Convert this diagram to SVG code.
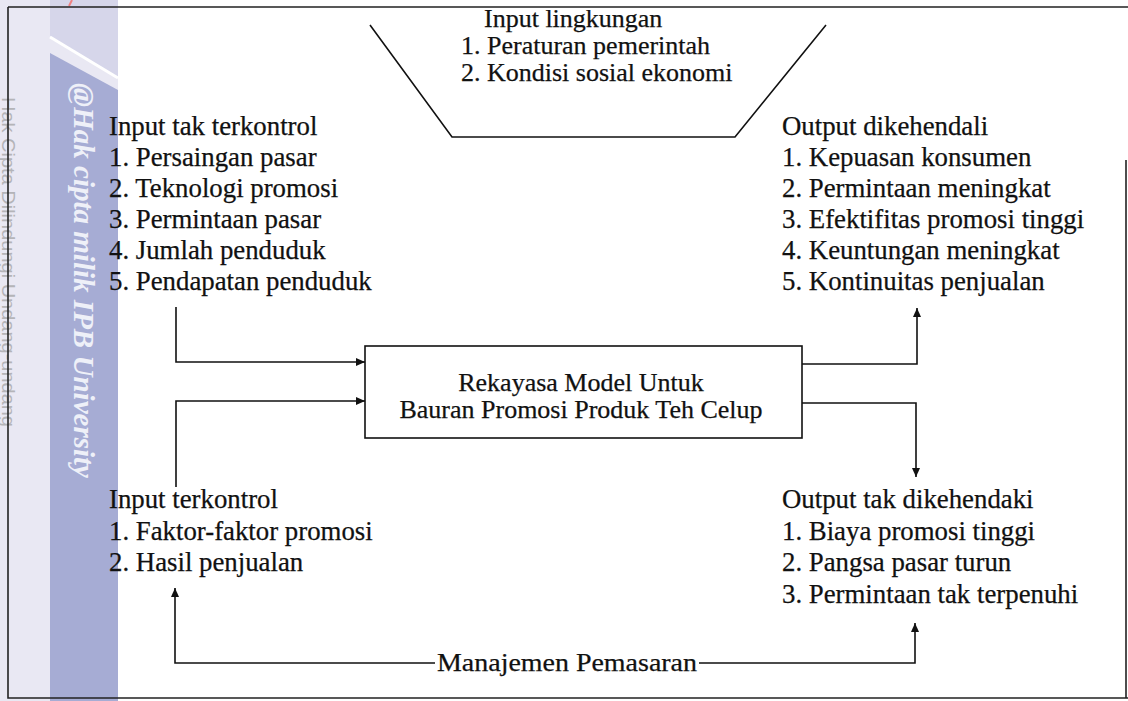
<svg xmlns="http://www.w3.org/2000/svg" width="1128" height="701" viewBox="0 0 1128 701">
<style>
.t{font-family:"Liberation Serif","Times New Roman",serif;font-size:26px;fill:#111;stroke:#111;stroke-width:0.25}
.l{font-size:26.8px}
.ln{fill:none;stroke:#111;stroke-width:1.6}
.bd{fill:none;stroke:#222;stroke-width:1.6}
</style>
<defs>
<marker id="ah" markerUnits="userSpaceOnUse" markerWidth="9" markerHeight="8" refX="9" refY="4" orient="auto">
<path d="M0,0 L9,4 L0,8 z" fill="#111"/>
</marker>
</defs>
<rect width="1128" height="701" fill="#fff"/>
<g id="watermark">
<rect x="0" y="0" width="50" height="701" fill="#e9e8f3"/>
<rect x="50" y="0" width="68" height="701" fill="#e9e8f3"/>
<polygon points="50,0 118,0 118,77 50,36" fill="#d6d6ea"/>
<line x1="50" y1="37" x2="118" y2="78" stroke="#fff" stroke-width="3"/>
<polygon points="50,53 118,90 118,701 50,701" fill="#a6acd4"/>
<line x1="72" y1="0" x2="69" y2="6" stroke="#f08080" stroke-width="2"/>
<text transform="translate(2,97) rotate(90)" font-family="'Liberation Sans',Arial,sans-serif" font-size="19" fill="#b4b4b8" textLength="330" lengthAdjust="spacingAndGlyphs">Hak Cipta Dilindungi Undang-undang</text>
<text transform="translate(74,83) rotate(90)" font-family="'Liberation Serif','Times New Roman',serif" font-size="29" font-weight="bold" font-style="italic" fill="#eef0f8" textLength="395" lengthAdjust="spacingAndGlyphs">@Hak cipta milik IPB University</text>
</g>
<g id="border">
<path class="bd" d="M8,7 H1128 M8,7 V698 H1128 M1126,160 V698"/>
</g>
<g id="input-lingkungan">
<path class="ln" d="M370,25 L452,137 H735 L826,25"/>
<text class="t" x="484" y="27">Input lingkungan</text>
<text class="t" x="461" y="54">1. Peraturan pemerintah</text>
<text class="t" x="461" y="81">2. Kondisi sosial ekonomi</text>
</g>
<g id="input-tak-terkontrol">
<text class="t l" x="109" y="135">Input tak terkontrol</text>
<text class="t l" x="109" y="166">1. Persaingan pasar</text>
<text class="t l" x="109" y="197">2. Teknologi promosi</text>
<text class="t l" x="109" y="228">3. Permintaan pasar</text>
<text class="t l" x="109" y="259">4. Jumlah penduduk</text>
<text class="t l" x="109" y="290">5. Pendapatan penduduk</text>
</g>
<g id="output-dikehendaki">
<text class="t l" x="782" y="135">Output dikehendali</text>
<text class="t l" x="782" y="166">1. Kepuasan konsumen</text>
<text class="t l" x="782" y="197">2. Permintaan meningkat</text>
<text class="t l" x="782" y="228">3. Efektifitas promosi tinggi</text>
<text class="t l" x="782" y="259">4. Keuntungan meningkat</text>
<text class="t l" x="782" y="290">5. Kontinuitas penjualan</text>
</g>
<g id="model">
<rect x="365" y="346" width="437" height="92" fill="#fff" stroke="#111" stroke-width="1.6"/>
<text class="t" x="581" y="391" text-anchor="middle">Rekayasa Model Untuk</text>
<text class="t" x="581" y="418" text-anchor="middle">Bauran Promosi Produk Teh Celup</text>
</g>
<g id="input-terkontrol">
<text class="t l" x="109" y="508">Input terkontrol</text>
<text class="t l" x="109" y="540">1. Faktor-faktor promosi</text>
<text class="t l" x="109" y="571">2. Hasil penjualan</text>
</g>
<g id="output-tak-dikehendaki">
<text class="t l" x="782" y="508">Output tak dikehendaki</text>
<text class="t l" x="782" y="540">1. Biaya promosi tinggi</text>
<text class="t l" x="782" y="571">2. Pangsa pasar turun</text>
<text class="t l" x="782" y="603">3. Permintaan tak terpenuhi</text>
</g>
<g id="manajemen">
<text class="t" x="437" y="671" font-size="27" textLength="260" lengthAdjust="spacingAndGlyphs">Manajemen Pemasaran</text>
</g>
<g id="connectors">
<path class="ln" d="M176,307 V362 H365" marker-end="url(#ah)"/>
<path class="ln" d="M176,487 V401 H365" marker-end="url(#ah)"/>
<path class="ln" d="M802,364 H917 V308" marker-end="url(#ah)"/>
<path class="ln" d="M802,403 H916 V477" marker-end="url(#ah)"/>
<path class="ln" d="M435,663 H175 V588" marker-end="url(#ah)"/>
<path class="ln" d="M699,663 H915 V623" marker-end="url(#ah)"/>
</g>
</svg>
